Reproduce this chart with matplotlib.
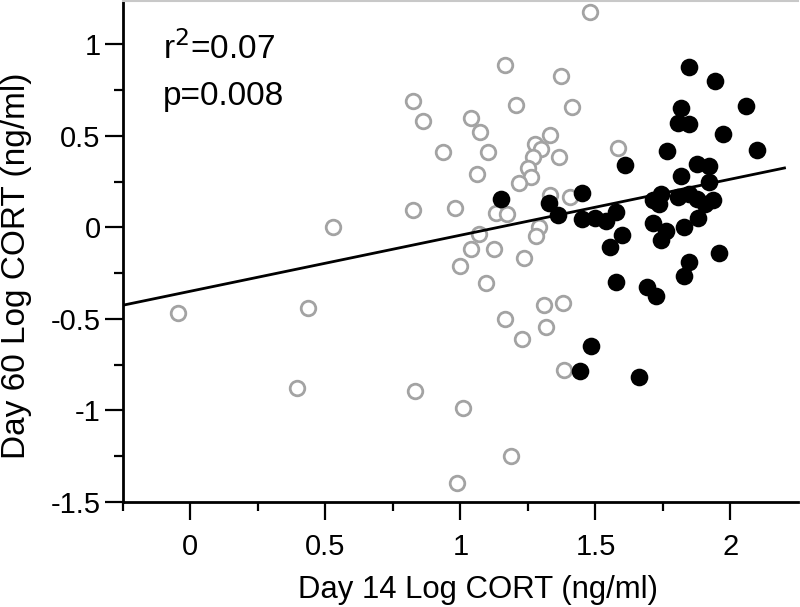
import matplotlib
matplotlib.use('Agg')
import matplotlib.pyplot as plt
import numpy as np
from matplotlib.ticker import FixedLocator

plt.rcParams['font.family'] = ['Liberation Sans', 'DejaVu Sans']
plt.rcParams['axes.unicode_minus'] = False

# Day 14 group (open grey circles)
grey_x = [-0.044, 0.437, 0.395, 0.529, 1.479, 1.166, 1.374, 0.823, 1.205, 1.415,
          0.863, 1.040, 1.072, 1.331, 0.937, 1.103, 1.583, 1.275, 1.300, 1.269,
          1.364, 1.251, 1.261, 1.062, 1.216, 1.331, 1.405, 0.823, 0.979, 1.133,
          1.171, 1.069, 1.291, 1.279, 1.039, 1.124, 0.998, 1.236, 1.094, 1.310,
          1.380, 1.166, 1.318, 1.229, 1.383, 0.832, 1.010, 1.187, 0.988]
grey_y = [-0.467, -0.440, -0.880, 0.000, 1.174, 0.884, 0.824, 0.690, 0.670, 0.656,
          0.582, 0.596, 0.518, 0.504, 0.413, 0.411, 0.431, 0.455, 0.428, 0.382,
          0.382, 0.322, 0.273, 0.292, 0.243, 0.174, 0.168, 0.092, 0.107, 0.078,
          0.075, -0.034, 0.002, -0.047, -0.116, -0.121, -0.210, -0.167, -0.306, -0.424,
          -0.415, -0.502, -0.547, -0.609, -0.777, -0.895, -0.989, -1.248, -1.399]

# second group (filled black circles)
black_x = [1.848, 1.942, 1.817, 2.058, 1.805, 1.848, 1.972, 1.765, 2.099, 1.609,
           1.876, 1.922, 1.817, 1.920, 1.152, 1.451, 1.327, 1.362, 1.451, 1.497,
           1.538, 1.577, 1.599, 1.555, 1.577, 1.690, 1.713, 1.743, 1.713, 1.737,
           1.762, 1.743, 1.805, 1.848, 1.876, 1.904, 1.935, 1.828, 1.879, 1.957,
           1.848, 1.828, 1.723, 1.484, 1.442, 1.661]
black_y = [0.877, 0.799, 0.650, 0.661, 0.572, 0.567, 0.509, 0.418, 0.422, 0.342,
           0.346, 0.333, 0.283, 0.250, 0.156, 0.188, 0.132, 0.069, 0.047, 0.051,
           0.034, 0.083, -0.040, -0.110, -0.297, -0.324, 0.024, 0.183, 0.147, 0.129,
           -0.022, -0.067, 0.165, 0.183, 0.156, 0.129, 0.147, 0.002, 0.051, -0.140,
           -0.188, -0.264, -0.375, -0.647, -0.783, -0.817]

# regression line
slope = 0.306
intercept = -0.349
line_x = [-0.25, 2.2]

x_ticks = [0, 0.5, 1, 1.5, 2]
x_labels = ['0', '0.5', '1', '1.5', '2']
x_minor = [-0.25, 0.25, 0.75, 1.25, 1.75]
y_ticks = [-1.5, -1, -0.5, 0, 0.5, 1]
y_labels = ['-1.5', '-1', '-0.5', '0', '0.5', '1']
y_minor = [-1.25, -0.75, -0.25, 0.25, 0.75]

fig = plt.figure(figsize=(8, 6.07), dpi=100)
ax = fig.add_axes([0.1535, 0.173, 0.844, 0.825])

ax.plot(grey_x, grey_y, 'o', ms=10.5, mfc='white', mec='#a3a3a3', mew=2, zorder=2)
ax.plot(black_x, black_y, 'o', ms=12.7, mfc='black', mec='black', mew=0, zorder=3)
lx = np.array(line_x)
ax.plot(lx, slope * lx + intercept, color='black', lw=2, zorder=4)

ax.set_xlim(-0.25, 2.25)
ax.set_ylim(-1.5, 1.235)
ax.set_xticks(x_ticks)
ax.set_xticklabels(x_labels)
ax.set_yticks(y_ticks)
ax.set_yticklabels(y_labels)
ax.xaxis.set_minor_locator(FixedLocator(x_minor))
ax.yaxis.set_minor_locator(FixedLocator(y_minor))

ax.tick_params(which='major', length=13, width=1.6, labelsize=21, direction='out')
ax.tick_params(which='minor', length=6.5, width=1.6, direction='out')
ax.tick_params(axis='x', which='major', pad=9)
ax.tick_params(axis='y', which='major', pad=3)

ax.spines['right'].set_visible(False)
ax.spines['top'].set_color('#c8c8c8')
ax.spines['top'].set_linewidth(1.5)
ax.spines['left'].set_linewidth(2)
ax.spines['bottom'].set_linewidth(2)

ax.set_xlabel('Day 14 Log CORT (ng/ml)', fontsize=22.4)
ax.set_ylabel('Day 60 Log CORT (ng/ml)', fontsize=24)
ax.xaxis.set_label_coords(0.526, -0.145)
ax.yaxis.set_label_coords(-0.135, 0.472)

ax.text(0.06, 0.94, r'r$^2$=0.07', transform=ax.transAxes, fontsize=24, va='top')
ax.text(0.06, 0.84, 'p=0.008', transform=ax.transAxes, fontsize=24, va='top')

plt.savefig('out.png', dpi=100)
